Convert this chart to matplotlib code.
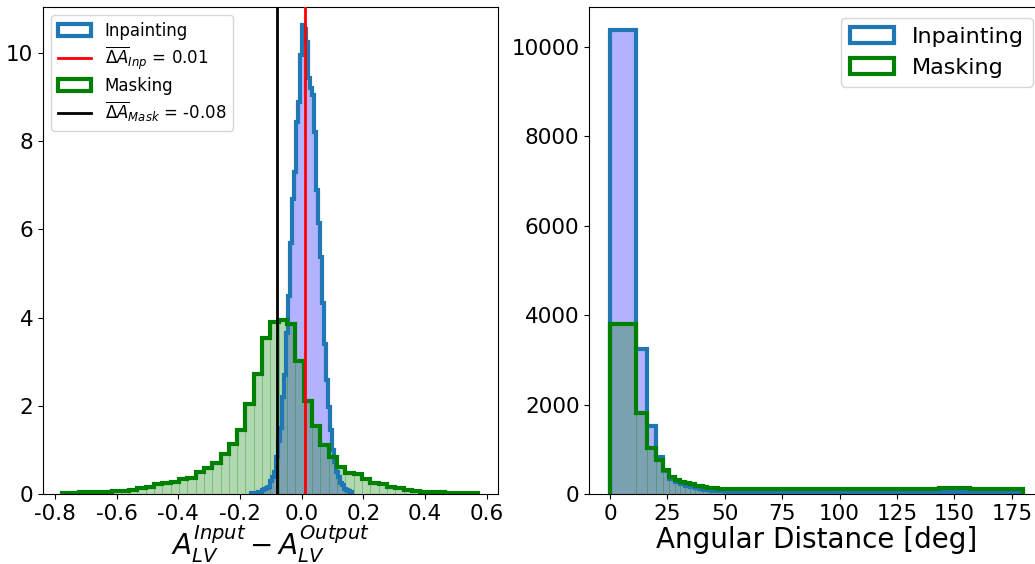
import numpy as np
import matplotlib
matplotlib.use("Agg")
import matplotlib.pyplot as plt

plt.rcParams['axes.unicode_minus'] = False

# ---------------- Left panel data (density histograms) ----------------
inp_range = (-0.163, 0.164)
mask_range = (-0.776, 0.573)

inp_density = [0.02, 0.02, 0.03, 0.04, 0.05, 0.08, 0.11, 0.14, 0.17, 0.30,
               0.39, 0.50, 0.84, 1.20, 1.50, 2.20, 2.70, 3.65, 4.50, 5.70,
               6.70, 7.30, 8.44, 8.90, 9.95, 10.63, 10.55, 10.25, 9.43, 9.20,
               9.05, 8.20, 6.90, 6.15, 5.37, 4.33, 3.40, 2.59, 1.97, 1.45,
               1.00, 0.73, 0.50, 0.39, 0.25, 0.20, 0.12, 0.09, 0.07, 0.05]

mask_density = [0.03, 0.03, 0.035, 0.045, 0.05, 0.05, 0.06, 0.07, 0.10, 0.13,
                0.17, 0.22, 0.24, 0.27, 0.33, 0.37, 0.51, 0.60, 0.71, 0.91,
                1.14, 1.46, 2.05, 2.72, 3.54, 3.89, 3.94, 3.85, 3.02, 2.11,
                1.54, 1.11, 0.85, 0.62, 0.47, 0.45, 0.34, 0.26, 0.22, 0.17,
                0.13, 0.09, 0.06, 0.05, 0.045, 0.04, 0.03, 0.03, 0.03, 0.03]

inp_mean = 0.01
mask_mean = -0.08

# ---------------- Right panel data (counts, bins uniform in cos) ----------------
inp_counts = [10380, 3240, 1510, 835, 525, 335, 262, 222, 188, 160,
              132, 112, 96, 84, 74, 66, 61, 57, 54, 52,
              50, 49, 48, 47, 47, 46, 46, 45, 45, 44,
              44, 44, 43, 43, 44, 43, 42, 43, 42, 42,
              43, 42, 41, 42, 42, 41, 42, 41, 41, 42,
              41, 40, 41, 41, 40, 41, 40, 40, 41, 40,
              40, 41, 40, 39, 40, 40, 39, 40, 40, 39,
              40, 39, 40, 39, 39, 40, 39, 39, 40, 39,
              39, 40, 39, 39, 40, 39, 38, 39, 39, 38,
              39, 39, 40, 39, 38, 39, 39, 38, 39, 38]

mask_counts = [3800, 1820, 1020, 760, 540, 390, 313, 278, 250, 224,
               190, 168, 150, 138, 130, 124, 120, 117, 115, 113,
               112, 111, 110, 111, 109, 110, 108, 110, 109, 108,
               109, 110, 108, 109, 107, 108, 110, 109, 108, 107,
               109, 108, 110, 108, 107, 109, 108, 110, 109, 108,
               107, 109, 108, 107, 108, 110, 109, 108, 107, 108,
               109, 110, 111, 109, 108, 110, 112, 111, 110, 109,
               110, 112, 111, 110, 112, 113, 112, 111, 113, 112,
               114, 113, 112, 114, 115, 113, 114, 116, 118, 120,
               124, 130, 136, 142, 140, 128, 121, 120, 122, 120]

left_xticks = [-0.8, -0.6, -0.4, -0.2, 0.0, 0.2, 0.4, 0.6]
left_yticks = [0, 2, 4, 6, 8, 10]
right_xticks = [0, 25, 50, 75, 100, 125, 150, 175]
right_yticks = [0, 2000, 4000, 6000, 8000, 10000]

# ---------------- Figure ----------------
W, H = 1035, 564
fig = plt.figure(figsize=(W / 100, H / 100), dpi=100)
ax1 = fig.add_axes([43 / W, 70 / H, 454.6 / W, 487.3 / H])
ax2 = fig.add_axes([589.3 / W, 70 / H, 454.6 / W, 487.3 / H])

inp_edges = np.linspace(inp_range[0], inp_range[1], len(inp_density) + 1)
mask_edges = np.linspace(mask_range[0], mask_range[1], len(mask_density) + 1)

# Left
ax1.hist(inp_edges[:-1], bins=inp_edges, weights=inp_density, alpha=0.3,
         color='blue', linewidth=0)
ax1.hist(inp_edges[:-1], bins=inp_edges, weights=inp_density, histtype='step',
         lw=3, color='tab:blue', label='Inpainting')
ax1.axvline(inp_mean, color='red', lw=2, zorder=5,
            label=r'$\overline{\Delta A}_{Inp}$ = ' + f'{inp_mean:.2f}')
ax1.hist(mask_edges[:-1], bins=mask_edges, weights=mask_density, alpha=0.3,
         color='green', edgecolor='green', linewidth=0.4)
ax1.hist(mask_edges[:-1], bins=mask_edges, weights=mask_density, histtype='step',
         lw=3, color='green', label='Masking')
ax1.axvline(mask_mean, color='black', lw=2, zorder=5,
            label=r'$\overline{\Delta A}_{Mask}$ = ' + f'{mask_mean:.2f}')

ax1.set_xlim(-0.839, 0.635)
ax1.set_ylim(0, 11.05)
ax1.set_xticks(left_xticks)
ax1.set_xticklabels([f'{v:.1f}' for v in left_xticks])
ax1.set_yticks(left_yticks)
ax1.tick_params(labelsize=15.5)
ax1.set_xlabel(r'$A_{LV}^{Input} - A_{LV}^{Output}$', fontsize=20, labelpad=0)
ax1.legend(loc='upper left', fontsize=12, labelspacing=0.3)

# Right
ang_edges = np.degrees(np.arccos(np.linspace(1, -1, len(inp_counts) + 1)))
ax2.hist(ang_edges[:-1], bins=ang_edges, weights=inp_counts, alpha=0.3,
         color='blue', linewidth=0)
ax2.hist(ang_edges[:-1], bins=ang_edges, weights=inp_counts, histtype='step',
         lw=3, color='tab:blue', label='Inpainting')
ax2.hist(ang_edges[:-1], bins=ang_edges, weights=mask_counts, alpha=0.3,
         color='green', edgecolor='green', linewidth=0.4)
ax2.hist(ang_edges[:-1], bins=ang_edges, weights=mask_counts, histtype='step',
         lw=3, color='green', label='Masking')
ax2.set_xlim(-9, 189)
ax2.set_ylim(0, 10900)
ax2.set_xticks(right_xticks)
ax2.set_yticks(right_yticks)
ax2.tick_params(labelsize=15.5)
ax2.set_xlabel('Angular Distance [deg]', fontsize=20, labelpad=2)
ax2.legend(loc='upper right', fontsize=16)

fig.savefig('out.png', dpi=100)
